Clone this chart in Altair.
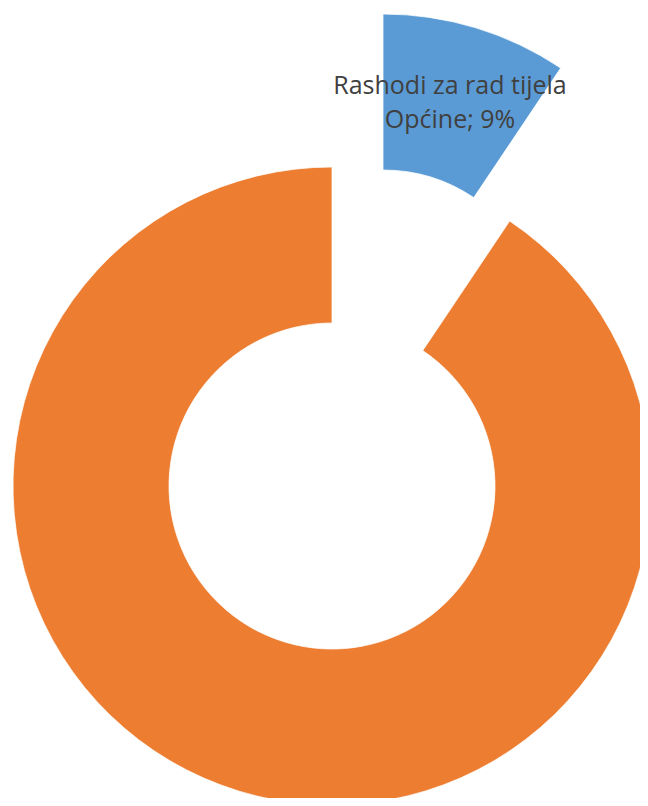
import math
import altair as alt
import pandas as pd

# Data
categories = ["Rashodi za rad tijela Općine", "Ostali rashodi"]
values = [9.4, 90.6]
colors = ["#5B9BD5", "#ED7D31"]
order = [0, 1]

df = pd.DataFrame({"category": categories, "value": values, "order": order})
df["pct"] = (df["value"] / df["value"].sum() * 100).round().astype(int).astype(str) + "%"

# label lines for the visible (blue) slice
lbl_lines = ["Rashodi za rad tijela", "Općine; " + df.loc[0, "pct"]]

W, H = 632, 790
R_OUT, R_IN = 319, 163
# centres (exploded blue slice is shifted outward)
CX, CY = 324, 478
BX, BY = 375, 325

base = alt.Chart(df).transform_stack(
    stack="value", groupby=[], as_=["v0", "v1"], sort=[alt.SortField("order")]
)

theta_scale = alt.Scale(domain=[0, 100], range=[0, 2 * math.pi])
color_scale = alt.Scale(domain=categories, range=colors)


def slice_layer(cat, cx, cy):
    return base.transform_filter(alt.datum.category == cat).mark_arc(
        outerRadius=R_OUT, innerRadius=R_IN, stroke="white", strokeWidth=0.75
    ).encode(
        theta=alt.Theta("v0:Q", scale=theta_scale),
        theta2="v1:Q",
        color=alt.Color("category:N", scale=color_scale, legend=None),
        x=alt.value(cx),
        y=alt.value(cy),
    )


orange = slice_layer(categories[1], CX, CY)
blue = slice_layer(categories[0], BX, BY)

label = alt.Chart(pd.DataFrame({"lines": [lbl_lines]})).mark_text(
    font="Open Sans",
    fontSize=25,
    lineHeight=34,
    align="center",
    baseline="alphabetic",
    color="#404040",
).encode(
    text="lines",
    x=alt.value(442),
    y=alt.value(86),
)

chart = alt.layer(orange, blue, label).properties(
    width=W,
    height=H,
    padding=0,
    autosize=alt.AutoSizeParams(type="none"),
    background="white",
).configure_view(stroke=None)

chart.save("out.html", embed_options={"renderer": "svg", "actions": False})
